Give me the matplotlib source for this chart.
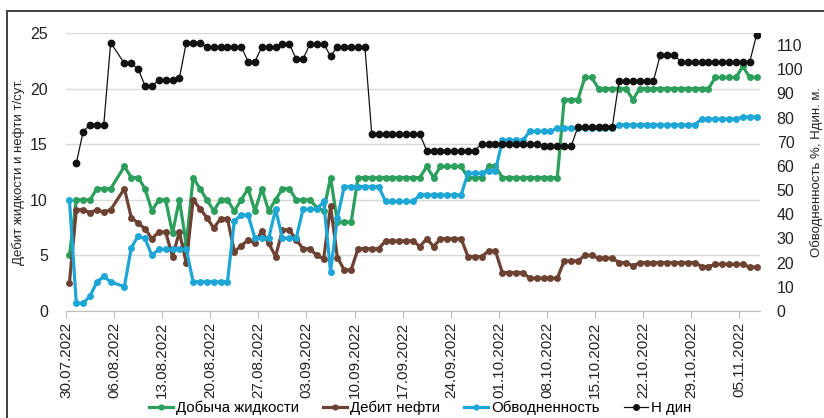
import numpy as np
import matplotlib
matplotlib.use("Agg")
import matplotlib.pyplot as plt
from matplotlib.patches import Rectangle

plt.rcParams['font.family'] = ['Liberation Sans', 'DejaVu Sans']

nan = np.nan

# Добыча жидкости, т/сут (left axis)
liquid = [5, 10, 10, 10, 11, 11, 11, nan, 13, 12, 12, 11, 9, 10, 10, 7, 10, 6, 12, 11,
          10, 9, 10, 10, 9, 10, 11, 9, 11, 9, 10, 11, 11, 10, 10, 10, 9.3, 9, 12, 8,
          8, 8, 12, 12, 12, 12, 12, 12, 12, 12, 12, 12, 13, 12, 13, 13, 13, 13, 12, 12,
          12, 13, 13, 12, 12, 12, 12, 12, 12, 12, 12, 12, 19, 19, 19, 21, 21, 20, 20, 20,
          20, 20, 19, 20, 20, 20, 20, 20, 20, 20, 20, 20, 20, 20, 21, 21, 21, 21, 22, 21,
          21]

# Дебит нефти, т/сут (left axis)
oil = [2.55, 9.1, 9.1, 8.85, 9.1, 8.9, 9.1, nan, 11, 8.4, 7.9, 7.4, 6.5, 7.1, 7.1, 4.9, 7.1, 4.3, 10, 9.2,
       8.4, 7.45, 8.3, 8.3, 5.35, 5.85, 6.4, 6.1, 7.2, 6.1, 4.9, 7.3, 7.3, 6.4, 5.6, 5.6, 5.0, 4.7, 9.4, 4.8,
       3.7, 3.7, 5.6, 5.6, 5.6, 5.6, 6.3, 6.3, 6.3, 6.3, 6.3, 5.8, 6.5, 5.8, 6.5, 6.5, 6.5, 6.5, 4.9, 4.9,
       4.9, 5.4, 5.4, 3.45, 3.45, 3.45, 3.45, 2.95, 2.95, 2.95, 2.95, 2.95, 4.5, 4.5, 4.5, 5.0, 5.0, 4.75, 4.75, 4.75,
       4.35, 4.35, 4.05, 4.35, 4.35, 4.35, 4.35, 4.35, 4.35, 4.35, 4.35, 4.35, 4.0, 4.0, 4.2, 4.2, 4.2, 4.2, 4.2, 3.95,
       3.95]

# Обводненность, % (right axis)
water_cut = [46, 3.2, 3.2, 6.2, 12, 14.3, 12, nan, 10.1, 26.2, 31, 30, 23, 25.5, 25.5, 25.5, 25.5, 25.5, 12.1, 12.1,
             12.1, 12.1, 12.1, 12.1, 37.3, 39.7, 39.7, 30.1, 30.1, 30.1, 42.1, 30.1, 30.1, 30.1, 42.1, 42.1, 42.1, 45.3, 16.3, 38.6,
             51.5, 51.5, 51.5, 51.5, 51.5, 51.5, 45.3, 45.3, 45.3, 45.3, 45.3, 48, 48, 48, 48, 48, 48, 48, 57, 57,
             57, 58, 58, 70.6, 70.6, 70.6, 70.6, 74.3, 74.3, 74.3, 74.3, 75.6, 75.6, 75.6, 75.6, 75.6, 75.6, 75.6, 75.6, 75.6,
             77, 77, 77, 77, 77, 77, 77, 77, 77, 77, 77, 77, 79.4, 79.4, 79.4, 79.4, 79.4, 79.4, 80.2, 80.2,
             80.2]

# Н дин, м (right axis)
h_din = [nan, 61.2, 74.2, 77.1, 77.1, 77.1, 111, nan, 102.4, 102.4, 100.1, 93.2, 93.2, 95.4, 95.4, 95.4, 96.3, 111, 111, 111,
         109.3, 109.3, 109.3, 109.3, 109.3, 109.3, 103.2, 103.2, 109.3, 109.3, 109.3, 110.5, 110.5, 104.2, 104.2, 110.5, 110.5, 110.5, 105.5, 109.3,
         109.3, 109.3, 109.3, 109.3, 73.1, 73.1, 73.1, 73.1, 73.1, 73.1, 73.1, 73.1, 66.3, 66.3, 66.3, 66.3, 66.3, 66.3, 66.3, 66.3,
         69.2, 69.2, 69.2, 69.2, 69.2, 69.2, 69.2, 69.2, 69.2, 68.1, 68.1, 68.1, 68.1, 68.1, 76.1, 76.1, 76.1, 76.1, 76.1, 76.1,
         95.3, 95.3, 95.3, 95.3, 95.3, 95.3, 106, 106, 106, 103, 103, 103, 103, 103, 103, 103, 103, 103, 103, 103,
         114.3]

tick_labels = ['30.07.2022', '06.08.2022', '13.08.2022', '20.08.2022', '27.08.2022',
               '03.09.2022', '10.09.2022', '17.09.2022', '24.09.2022', '01.10.2022',
               '08.10.2022', '15.10.2022', '22.10.2022', '29.10.2022', '05.11.2022']
series_names = ['Добыча жидкости', 'Дебит нефти', 'Обводненность', 'Н дин']

GREEN = '#2c9f5c'
BROWN = '#6e4232'
BLUE = '#1ea6d6'
BLACK = '#111111'
TXT = '#222222'
FS = 11

W, H = 824, 418
fig = plt.figure(figsize=(W / 100, H / 100), dpi=100)
fig.patch.set_facecolor('white')
fig.patches.append(Rectangle((7 / W, -0.05), 1.2, 1 - 11 / H + 0.05, transform=fig.transFigure,
                             fill=False, edgecolor='#333333', linewidth=1.3))

left, right = 66 / W, 760 / W
bottom, top = 1 - 311 / H, 1 - 33 / H
ax = fig.add_axes([left, bottom, right - left, top - bottom])
ax2 = ax.twinx()

n = len(liquid)
x = np.arange(n)


def draw(axis, values, color, lw, ms, label):
    v = np.asarray(values, dtype=float)
    m = ~np.isnan(v)
    return axis.plot(x[m], v[m], color=color, lw=lw, marker='o', ms=ms,
                     markeredgewidth=0, label=label, solid_joinstyle='round')[0]


h1 = draw(ax, liquid, GREEN, 2.3, 5, series_names[0])
h2 = draw(ax, oil, BROWN, 2.3, 5, series_names[1])
h3 = draw(ax2, water_cut, BLUE, 2.3, 5, series_names[2])
h4 = draw(ax2, h_din, BLACK, 0.9, 5.6, series_names[3])

ax.set_xlim(-0.5, n - 0.5)
ax.set_ylim(0, 25)
ax.set_yticks(np.arange(0, 26, 5))
ax2.set_ylim(0, 115)
ax2.set_yticks(np.arange(0, 111, 10))

ax.grid(axis='y', color='#d9d9d9', linewidth=1)
ax.set_axisbelow(True)
ax.set_xticks(np.arange(0, n, 7)[:len(tick_labels)] - 0.5)
ax.set_xticklabels(tick_labels, rotation=90, fontsize=FS, color=TXT)

for a in (ax, ax2):
    for s in ('top', 'left', 'right', 'bottom'):
        a.spines[s].set_visible(False)
ax.spines['bottom'].set_visible(True)
ax.spines['bottom'].set_color('#bfbfbf')

ax.tick_params(axis='x', length=5, color='#bfbfbf', pad=3)
ax.tick_params(axis='y', length=0, pad=13, labelsize=FS + 0.5, labelcolor=TXT)
ax2.tick_params(axis='y', length=0, pad=12, labelsize=FS + 0.5, labelcolor=TXT)

ax.set_ylabel('Дебит жидкости и нефти т/сут.', fontsize=9.5, color=TXT, labelpad=4)
ax2.set_ylabel('Обводненность %, Ндин. м.', fontsize=9.5, color=TXT, labelpad=5)

fig.legend(handles=[h1, h2, h3, h4], labels=series_names, loc='center',
           bbox_to_anchor=(0.51, 1 - 408 / H), ncol=4, frameon=False,
           fontsize=10.8, handlelength=1.6, handletextpad=0.2, columnspacing=1.6,
           markerscale=0.9)

fig.savefig('out.png', dpi=100, facecolor='white')
